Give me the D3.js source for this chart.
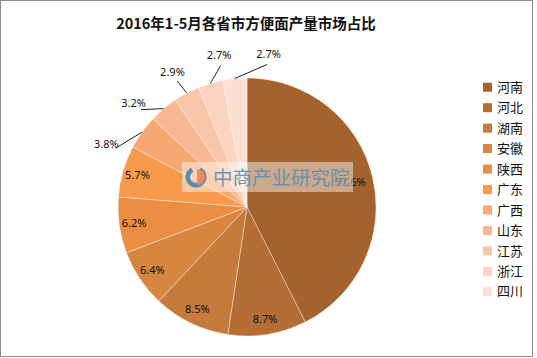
<!DOCTYPE html>
<html>
<head>
<meta charset="utf-8">
<script src="https://cdn.jsdelivr.net/npm/d3@7"></script>
<style>
  html, body { margin: 0; padding: 0; background: #fff; }
  #chart-container { width: 537px; height: 358px; }
  text { font-family: "Noto Sans", "Noto Sans CJK SC", sans-serif; }
</style>
</head>
<body>
<div id="chart-container"></div>
<script>
// data
const provinces = ["河南", "河北", "湖南", "安徽", "陕西", "广东", "广西", "山东", "江苏", "浙江", "四川"];
const shares = [37.6, 8.7, 8.5, 6.4, 6.2, 5.7, 3.8, 3.2, 2.9, 2.7, 2.7];
const colors = ["#a3622e", "#b46d34", "#c67a3b", "#d7853f", "#ea8e43", "#f79a4c", "#f8a872", "#f9b792", "#fac6aa", "#fbd3bf", "#fce0d4"];
const title = "2016年1-5月各省市方便面产量市场占比";

const width = 537;
const height = 358;
const cx = 247;
const cy = 207;
const radius = 129;

const svg = d3
  .select("#chart-container")
  .append("svg")
  .attr("width", width)
  .attr("height", height);

renderFrame();
renderTitle();
const arcs = renderPie();
renderLabels(arcs);
renderWatermark();
renderLegend();

function renderFrame() {
  svg
    .append("rect")
    .attr("x", 0.5)
    .attr("y", 0.5)
    .attr("width", 532)
    .attr("height", 356)
    .attr("fill", "#fff")
    .attr("stroke", "#8c8c8c");
}

function renderTitle() {
  svg
    .append("text")
    .attr("x", 246)
    .attr("y", 29)
    .attr("text-anchor", "middle")
    .style("font-family", "'Noto Sans CJK SC', sans-serif")
    .style("font-size", "14.5px")
    .style("font-weight", "bold")
    .attr("fill", "#111")
    .text(title);
}

function renderPie() {
  const data = provinces.map((p, i) => ({ name: p, value: shares[i], color: colors[i] }));
  const pie = d3.pie().sort(null).value((d) => d.value);
  const arc = d3.arc().innerRadius(0).outerRadius(radius);
  const arcs = pie(data);

  svg
    .append("g")
    .attr("transform", `translate(${cx}, ${cy})`)
    .selectAll("path")
    .data(arcs)
    .enter()
    .append("path")
    .attr("d", arc)
    .attr("fill", (d) => d.data.color)
    .attr("stroke", "rgba(255,255,255,0.55)")
    .attr("stroke-width", 0.7);

  return arcs;
}

function renderLabels(arcs) {
  const g = svg.append("g").attr("transform", `translate(${cx}, ${cy})`);
  const polar = (a, r) => [Math.sin(a) * r, -Math.cos(a) * r];
  const fmt = (v) => v.toFixed(1) + "%";

  // big slices get the label inside, small ones outside with a leader line
  const inside = arcs.filter((d) => d.data.value >= 5);
  const outside = arcs.filter((d) => d.data.value < 5);

  g.selectAll(".in-label")
    .data(inside)
    .enter()
    .append("text")
    .attr("class", "in-label")
    .attr("transform", (d) => {
      const mid = (d.startAngle + d.endAngle) / 2;
      const r = d.index === 0 ? 106 : 114;
      const [x, y] = polar(mid, r);
      return `translate(${x}, ${y})`;
    })
    .attr("text-anchor", "middle")
    .attr("dy", "0.35em")
    .style("font-size", "11px")
    .attr("fill", "#111")
    .text((d) => fmt(d.data.value));

  // spread the outside labels evenly around the mean angle
  const mids = outside.map((d) => (d.startAngle + d.endAngle) / 2);
  const mean = d3.mean(mids);
  const step = (18.5 * Math.PI) / 180;
  const labelAngle = (i) => mean + (i - (outside.length - 1) / 2) * step;

  g.selectAll(".leader")
    .data(outside)
    .enter()
    .append("polyline")
    .attr("class", "leader")
    .attr("points", (d, i) => {
      const mid = mids[i];
      const p0 = polar(mid, radius);
      const p1 = polar(labelAngle(i), radius + 15);
      return [p0, p1].map((p) => p.join(",")).join(" ");
    })
    .attr("fill", "none")
    .attr("stroke", "#222")
    .attr("stroke-width", 1);

  g.selectAll(".out-label")
    .data(outside)
    .enter()
    .append("text")
    .attr("class", "out-label")
    .attr("transform", (d, i) => {
      const [x, y] = polar(labelAngle(i), radius + 25);
      return `translate(${x}, ${y})`;
    })
    .attr("text-anchor", "middle")
    .attr("dy", "0.35em")
    .style("font-size", "11px")
    .attr("fill", "#111")
    .text((d) => fmt(d.data.value));
}

function renderWatermark() {
  const wm = svg.append("g").attr("transform", "translate(182, 162)");
  wm.append("rect")
    .attr("width", 171)
    .attr("height", 30)
    .attr("fill", "#fff")
    .attr("opacity", 0.45);
  // logo
  const logoArc = d3.arc().innerRadius(6).outerRadius(10.5);
  wm.append("path")
    .attr("transform", "translate(14, 15)")
    .attr("d", logoArc({ startAngle: Math.PI * 0.15, endAngle: Math.PI * 1.85 }))
    .attr("fill", "#5b8db0");
  wm.append("path")
    .attr("transform", "translate(15, 15)")
    .attr("d", d3.arc().innerRadius(0).outerRadius(8)({ startAngle: 0, endAngle: Math.PI }))
    .attr("fill", "#ec8a5a");
  wm.append("text")
    .attr("x", 31)
    .attr("y", 23)
    .style("font-family", "'Noto Sans CJK SC', sans-serif")
    .style("font-size", "19.5px")
    .attr("fill", "#5f8fb0")
    .attr("opacity", 0.9)
    .text("中商产业研究院");
}

function renderLegend() {
  const y = d3.scaleBand().domain(provinces).range([77, 302]);
  const legend = svg
    .append("g")
    .selectAll(".legend-item")
    .data(provinces)
    .enter()
    .append("g")
    .attr("class", "legend-item")
    .attr("transform", (d) => `translate(483, ${y(d) + y.bandwidth() / 2})`);

  legend
    .append("rect")
    .attr("x", 0)
    .attr("y", -4.5)
    .attr("width", 9)
    .attr("height", 9)
    .attr("fill", (d, i) => colors[i]);

  legend
    .append("text")
    .attr("x", 14)
    .attr("dy", "0.36em")
    .style("font-family", "'Noto Sans CJK SC', sans-serif")
    .style("font-size", "13px")
    .attr("fill", "#111")
    .text((d) => d);
}
</script>
</body>
</html>
